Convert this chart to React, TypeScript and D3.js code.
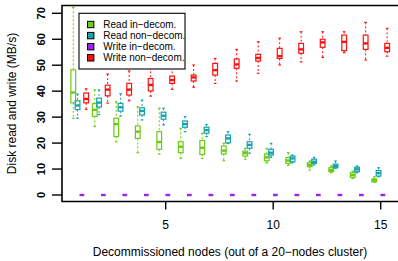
import React from "react";
import * as d3 from "d3";

// [lowWhisker, Q1, median, Q3, highWhisker] per decommissioned-node count 1..15
const nodes = [1, 2, 3, 4, 5, 6, 7, 8, 9, 10, 11, 12, 13, 14, 15];

const readInDecom: number[][] = [
  [29.5, 35.5, 39.5, 48.2, 72.3],
  [26.4, 30.3, 32.8, 35.2, 40.5],
  [20.5, 22.5, 27.3, 29.6, 35.9],
  [16.3, 21.8, 24.4, 26.6, 34.0],
  [15.8, 17.6, 20.4, 24.4, 33.4],
  [14.1, 16.3, 18.6, 20.5, 25.7],
  [14.1, 15.6, 18.2, 21.0, 23.8],
  [13.2, 15.8, 17.1, 18.9, 19.9],
  [13.8, 15.0, 16.1, 16.9, 18.0],
  [12.4, 13.2, 14.5, 15.8, 18.0],
  [11.4, 12.2, 13.3, 14.4, 16.3],
  [9.6, 10.9, 11.6, 12.4, 13.1],
  [8.6, 9.0, 9.6, 10.5, 11.2],
  [6.4, 6.8, 7.7, 8.6, 9.2],
  [4.9, 5.1, 5.7, 6.2, 7.0],
];

const readNonDecom: number[][] = [
  [29.6, 32.9, 34.5, 36.3, 38.9],
  [31.0, 33.9, 35.6, 37.3, 40.5],
  [30.4, 32.3, 33.8, 35.3, 39.0],
  [28.9, 30.8, 32.4, 33.6, 36.6],
  [27.0, 29.2, 30.5, 31.9, 33.4],
  [24.4, 26.1, 27.3, 28.5, 30.2],
  [22.5, 23.8, 25.0, 26.1, 27.2],
  [19.8, 20.1, 21.8, 23.1, 24.4],
  [16.1, 18.0, 19.3, 20.5, 23.4],
  [14.5, 15.4, 16.3, 17.6, 19.9],
  [12.4, 12.8, 14.1, 15.0, 15.4],
  [11.6, 12.2, 12.8, 13.8, 14.5],
  [10.3, 10.5, 11.2, 11.9, 13.1],
  [8.6, 9.0, 9.9, 10.7, 11.2],
  [7.0, 7.3, 8.4, 9.4, 10.5],
];

const writeInDecom: number[][] = nodes.map(() => [0, 0, 0, 0, 0]);

const writeNonDecom: number[][] = [
  [33.0, 35.5, 37.0, 39.3, 40.9],
  [35.4, 38.2, 40.6, 42.3, 46.6],
  [36.3, 38.5, 40.6, 43.0, 47.8],
  [38.1, 40.1, 42.4, 44.9, 49.2],
  [40.7, 43.0, 44.3, 45.8, 50.7],
  [41.5, 43.9, 45.3, 46.2, 50.1],
  [43.0, 46.2, 48.1, 50.7, 52.6],
  [43.9, 48.8, 50.3, 52.4, 56.1],
  [46.9, 51.6, 52.8, 54.2, 59.1],
  [50.1, 52.6, 53.5, 56.5, 60.4],
  [51.3, 54.6, 56.1, 58.4, 62.9],
  [53.0, 56.9, 58.8, 60.0, 62.9],
  [54.8, 55.6, 59.0, 61.6, 62.9],
  [52.0, 56.1, 58.4, 61.6, 66.5],
  [53.5, 55.2, 56.7, 58.4, 64.2],
];

const seriesNames = ["Read in\u2212decom.", "Read non\u2212decom.", "Write in\u2212decom.", "Write non\u2212decom."];
const seriesColors = ["#6ccb12", "#16a3ab", "#a020f0", "#ff1010"];
const seriesOffsets = [-0.3, -0.1, 0.1, 0.3];
const seriesData = [readInDecom, readNonDecom, writeInDecom, writeNonDecom];

const xTicks = [5, 10, 15];
const yTicks = [0, 10, 20, 30, 40, 50, 60, 70];

export default function App() {
  const W = 398;
  const H = 261;
  const plotLeft = 62;
  const plotTop = 5.5;
  const plotBottom = 201.5;
  const x = d3.scaleLinear().domain([1, 15]).range([79.7, 380.7]);
  const y = d3.scaleLinear().domain([0, 70]).range([195, 13.3]);
  const boxHalf = 0.11;
  const capHalf = 0.06;
  const font = "'Liberation Sans', Arial, Helvetica, sans-serif";

  return (
    <svg
      width={W}
      height={H}
      style={{ position: "absolute", left: 0, top: 0, background: "#fff" }}
      fontFamily={font}
    >
      {/* boxes */}
      {seriesData.map((data, si) => (
        <g key={si} stroke={seriesColors[si]} fill="none">
          {data.map((d, i) => {
            const cx = nodes[i] + seriesOffsets[si];
            const x0 = x(cx - boxHalf);
            const x1 = x(cx + boxHalf);
            const xc = x(cx);
            const c0 = x(cx - capHalf);
            const c1 = x(cx + capHalf);
            const [lo, q1, med, q3, hi] = d;
            return (
              <g key={i}>
                <line x1={xc} x2={xc} y1={y(hi)} y2={y(q3)} strokeWidth={1} strokeDasharray="2,2" />
                <line x1={xc} x2={xc} y1={y(q1)} y2={y(lo)} strokeWidth={1} strokeDasharray="2,2" />
                <line x1={c0} x2={c1} y1={y(hi)} y2={y(hi)} strokeWidth={1.2} />
                <line x1={c0} x2={c1} y1={y(lo)} y2={y(lo)} strokeWidth={1.2} />
                <rect x={x0} y={y(q3)} width={x1 - x0} height={Math.max(0, y(q1) - y(q3))} strokeWidth={1.2} />
                <line x1={x0} x2={x1} y1={y(med)} y2={y(med)} strokeWidth={2.4} />
              </g>
            );
          })}
        </g>
      ))}

      {/* frame */}
      <path
        d={`M${W + 5},${plotTop} H${plotLeft} V${plotBottom} H${W + 5}`}
        fill="none"
        stroke="#000"
        strokeWidth={1.6}
      />

      {/* y axis */}
      {yTicks.map((t) => (
        <g key={t}>
          <line x1={plotLeft - 10} x2={plotLeft} y1={y(t)} y2={y(t)} stroke="#000" strokeWidth={1.4} />
          <text
            transform={`translate(45,${y(t)}) rotate(-90)`}
            textAnchor="middle"
            fontSize={11}
            fontWeight="bold"
            fill="#000"
          >
            {t}
          </text>
        </g>
      ))}

      {/* x axis */}
      {xTicks.map((t) => (
        <g key={t}>
          <line x1={x(t)} x2={x(t)} y1={plotBottom} y2={plotBottom + 8} stroke="#000" strokeWidth={1.4} />
          <text x={x(t)} y={228.5} textAnchor="middle" fontSize={12} fill="#000">
            {t}
          </text>
        </g>
      ))}

      {/* axis titles */}
      <text x={230} y={256} textAnchor="middle" fontSize={12} fill="#000">
        Decommissioned nodes (out of a 20{"\u2212"}nodes cluster)
      </text>
      <text transform={`translate(16,${(plotTop + plotBottom) / 2}) rotate(-90)`} textAnchor="middle" fontSize={12} fill="#000">
        Disk read and write (MB/s)
      </text>

      {/* legend */}
      <g>
        <rect x={79} y={13.3} width={106} height={55.7} fill="#fff" stroke="#000" strokeWidth={1.1} />
        {seriesNames.map((name, i) => {
          const cy = 24.5 + i * 11.1;
          return (
            <g key={name}>
              <rect x={87.5} y={cy - 3.2} width={6.4} height={6.4} fill={seriesColors[i]} stroke="#000" strokeWidth={1} />
              <text x={103.3} y={cy + 3.6} fontSize={10} fill="#000">
                {name}
              </text>
            </g>
          );
        })}
      </g>
    </svg>
  );
}
